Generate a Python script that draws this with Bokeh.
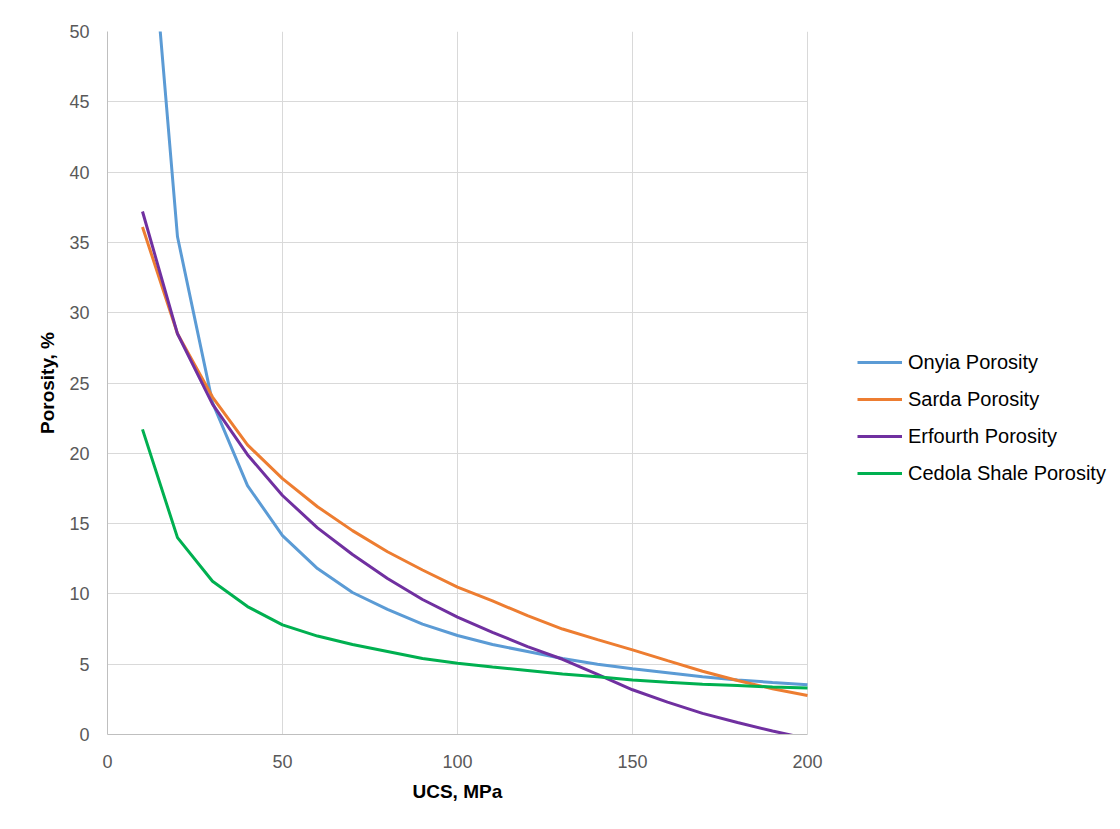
from bokeh.plotting import figure
from bokeh.models import Range1d, Legend, LegendItem, FixedTicker, Title
from bokeh.embed import file_html
from bokeh.resources import INLINE

ucs = [10, 20, 30, 40, 50, 60, 70, 80, 90, 100, 110, 120, 130, 140, 150, 160, 170, 180, 190, 200]
onyia = [65.0, 35.4, 23.6, 17.7, 14.15, 11.8, 10.1, 8.9, 7.85, 7.04, 6.4, 5.9, 5.4, 5.0, 4.67, 4.4, 4.1, 3.88, 3.7, 3.53]
sarda = [36.1, 28.5, 24.0, 20.6, 18.2, 16.2, 14.5, 13.0, 11.7, 10.48, 9.5, 8.45, 7.5, 6.75, 6.02, 5.25, 4.5, 3.84, 3.25, 2.77]
erfourth = [37.2, 28.5, 23.5, 19.9, 17.0, 14.7, 12.8, 11.1, 9.6, 8.35, 7.27, 6.25, 5.35, 4.27, 3.18, 2.3, 1.5, 0.85, 0.25, -0.3]
cedola = [21.7, 14.0, 10.9, 9.1, 7.8, 7.0, 6.4, 5.9, 5.4, 5.07, 4.8, 4.55, 4.3, 4.1, 3.87, 3.72, 3.58, 3.48, 3.38, 3.3]

series_names = ["Onyia Porosity", "Sarda Porosity", "Erfourth Porosity", "Cedola Shale Porosity"]
series_values = [onyia, sarda, erfourth, cedola]
colors = ["#5B9BD5", "#ED7D31", "#7030A0", "#00B050"]

x_ticks = [0, 50, 100, 150, 200]
y_ticks = [0, 5, 10, 15, 20, 25, 30, 35, 40, 45, 50]
x_min, x_max = 0, 200
y_min, y_max = 0, 50
x_title = "UCS, MPa"
y_title = "Porosity, %"

# plot area is 700px wide for 0..200; the frame is widened to the right to host the legend
data_px = 700
frame_px = 1005
x_end = x_max * frame_px / data_px

p = figure(frame_width=frame_px, frame_height=703, output_backend="svg", toolbar_location=None,
           x_range=Range1d(x_min, x_end), y_range=Range1d(y_min, y_max),
           min_border_left=107, min_border_top=31, min_border_right=0, min_border_bottom=87)
p.outline_line_color = None

items = []
for name, vals, c in zip(series_names, series_values, colors):
    r = p.line(ucs, vals, line_color=c, line_width=3)
    items.append(LegendItem(label=name, renderers=[r]))

for ax, ticks in ((p.xaxis, x_ticks), (p.yaxis, y_ticks)):
    ax.ticker = FixedTicker(ticks=ticks)
    ax.major_tick_line_color = None
    ax.minor_tick_line_color = None
    ax.axis_line_color = "#BFBFBF"
    ax.major_label_text_font = "Liberation Sans"
    ax.major_label_text_font_size = "18px"
    ax.major_label_text_color = "#595959"
    ax.axis_label_text_font = "Liberation Sans"
    ax.axis_label_text_font_size = "19px"
    ax.axis_label_text_font_style = "bold"
    ax.axis_label_text_color = "#000000"

p.xaxis.bounds = (x_min, x_max)
p.yaxis.axis_label = y_title
p.xaxis.major_label_standoff = 14
p.yaxis.major_label_standoff = 12
p.yaxis.axis_label_standoff = 8

# x-axis title centred under the 0..200 data area (not the widened frame)
xt = Title(text=x_title, align="left", offset=305, standoff=17,
           text_font="Liberation Sans", text_font_size="19px", text_font_style="bold",
           text_color="#000000")
p.add_layout(xt, "below")

p.xgrid.grid_line_color = "#D9D9D9"
p.ygrid.grid_line_color = "#D9D9D9"
p.xgrid.ticker = FixedTicker(ticks=x_ticks)
p.ygrid.ticker = FixedTicker(ticks=y_ticks)
p.ygrid.cross_bounds = (x_min, x_max)

legend = Legend(items=items, location=(750, 249), padding=0, margin=0, spacing=13,
                glyph_width=45, glyph_height=24, label_height=24, label_standoff=6,
                label_text_font="Liberation Sans", label_text_font_size="20px",
                label_text_color="#000000", border_line_color=None, background_fill_alpha=0)
p.add_layout(legend, "center")

open("out.html", "w").write(file_html(p, INLINE))
